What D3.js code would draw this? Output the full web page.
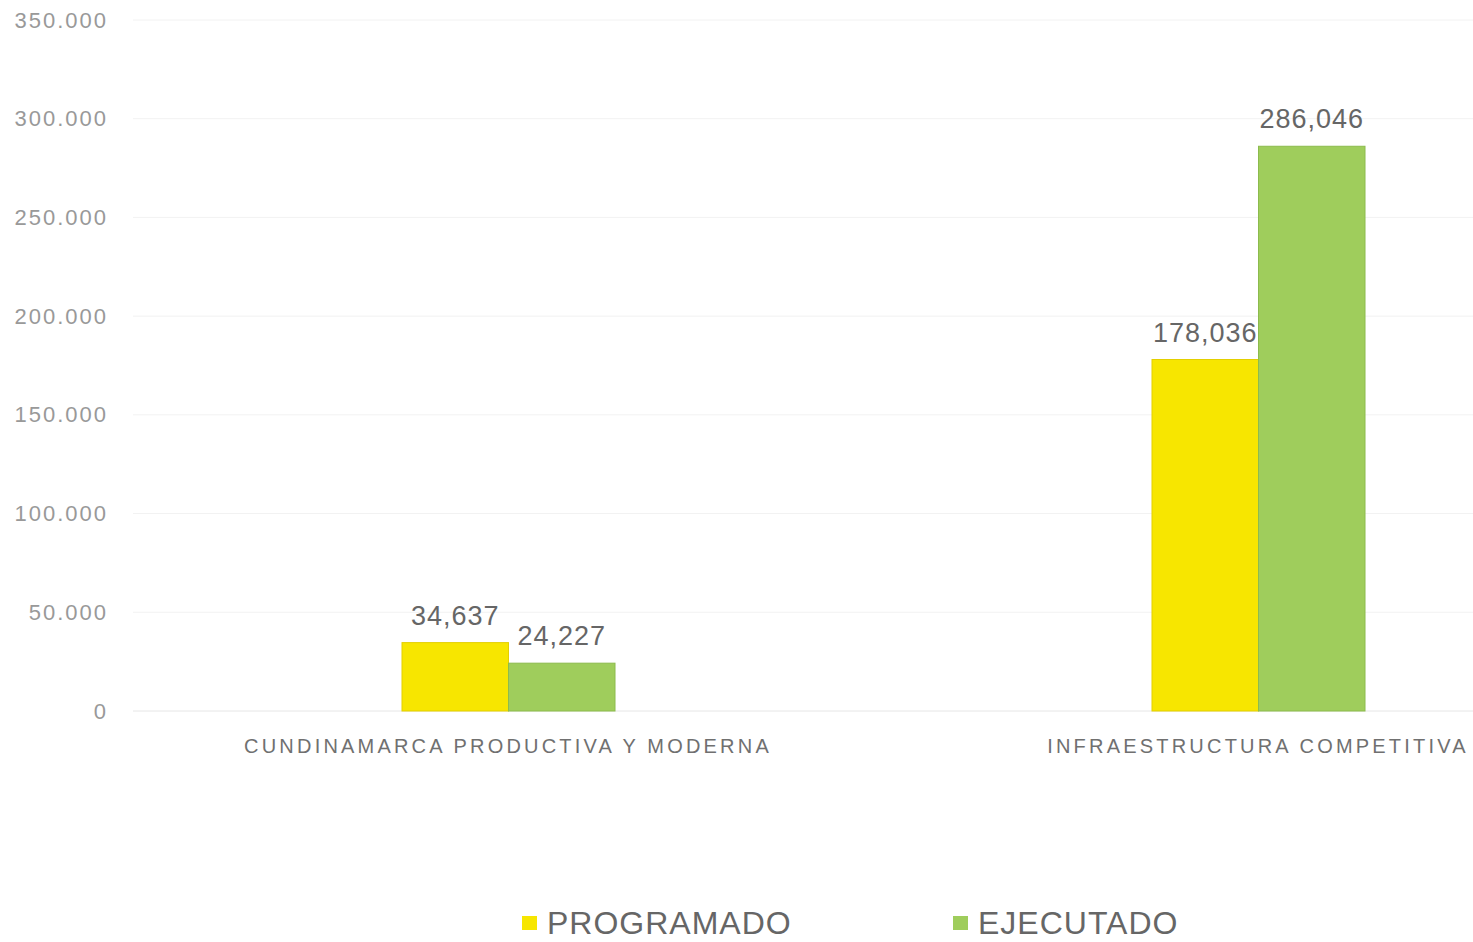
<!DOCTYPE html>
<html>
<head>
<meta charset="utf-8">
<script src="https://cdn.jsdelivr.net/npm/d3@7"></script>
<style>
  body { margin: 0; background: #fff; }
  text { font-family: "Liberation Sans", Arial, sans-serif; }
</style>
</head>
<body>
<div class="canvas"></div>
<script>
// data
const categories = ['CUNDINAMARCA PRODUCTIVA Y MODERNA', 'INFRAESTRUCTURA COMPETITIVA'];
const seriesNames = ['PROGRAMADO', 'EJECUTADO'];
const programado = [34637, 178036];
const ejecutado = [24227, 286046];
const yTicks = [0, 50000, 100000, 150000, 200000, 250000, 300000, 350000];

const colors = { PROGRAMADO: '#f7e600', EJECUTADO: '#9fcd5c' };
const edge = { PROGRAMADO: '#e3cf00', EJECUTADO: '#8cbb4d' };

const width = 1473, height = 942;
const margin = { top: 20, left: 133, bottom: 231 };
const graphHeight = height - margin.top - margin.bottom;

const svg = d3.select('.canvas')
    .append('svg')
    .attr('width', width)
    .attr('height', height);

const graph = svg.append('g')
    .attr('transform', `translate(${margin.left}, ${margin.top})`);

// scales
const x = d3.scaleBand().domain(categories).range([0, 1500]);
const xs = d3.scaleBand().domain(seriesNames).range([0, 213]);
const y = d3.scaleLinear().domain([0, 350000]).range([graphHeight, 0]);

// grid lines
graph.append('g')
    .selectAll('line')
    .data(yTicks)
    .enter().append('line')
    .attr('x1', 0).attr('x2', width)
    .attr('y1', d => y(d)).attr('y2', d => y(d))
    .attr('stroke', d => d === 0 ? '#e6e6e6' : '#f2f2f2')
    .attr('stroke-width', 1);

// y axis
const yAxis = d3.axisLeft(y)
    .tickValues(yTicks)
    .tickSize(0)
    .tickPadding(25)
    .tickFormat(d => d3.format(',')(d).replace(/,/g, '.'));

const yAxisGroup = graph.append('g').call(yAxis);
yAxisGroup.select('.domain').remove();
yAxisGroup.selectAll('text')
    .attr('fill', '#999')
    .style('font-size', '22px')
    .style('letter-spacing', '2px');

// x axis labels
const xAxis = d3.axisBottom(x).tickSize(0).tickPadding(28);
const xAxisGroup = graph.append('g')
    .attr('transform', `translate(0, ${graphHeight})`)
    .call(xAxis);
xAxisGroup.select('.domain').remove();
xAxisGroup.selectAll('text')
    .attr('fill', '#707070')
    .style('font-size', '20px')
    .style('letter-spacing', '3.2px');

// bars
const rows = categories.map((c, i) => ({
    cat: c,
    vals: [
        { name: 'PROGRAMADO', value: programado[i] },
        { name: 'EJECUTADO', value: ejecutado[i] }
    ]
}));

const groups = graph.selectAll('.cat')
    .data(rows)
    .enter().append('g')
    .attr('class', 'cat')
    .attr('transform', d => `translate(${x(d.cat) + x.bandwidth() / 2 - 106}, 0)`);

groups.selectAll('rect')
    .data(d => d.vals)
    .enter().append('rect')
    .attr('x', d => xs(d.name))
    .attr('width', xs.bandwidth())
    .attr('y', d => y(d.value))
    .attr('height', d => graphHeight - y(d.value))
    .attr('fill', d => colors[d.name])
    .attr('stroke', d => edge[d.name])
    .attr('stroke-width', 1);

groups.selectAll('.val')
    .data(d => d.vals)
    .enter().append('text')
    .attr('class', 'val')
    .attr('x', d => xs(d.name) + xs.bandwidth() / 2)
    .attr('y', d => y(d.value) - 18)
    .attr('text-anchor', 'middle')
    .attr('fill', '#666')
    .style('font-size', '27px')
    .style('letter-spacing', '1px')
    .text(d => d3.format(',')(d.value));

// legend
const legendX = [522, 953];
const legend = svg.selectAll('.legend')
    .data(seriesNames)
    .enter().append('g')
    .attr('class', 'legend')
    .attr('transform', (d, i) => `translate(${legendX[i]}, 923)`);

legend.append('rect')
    .attr('x', 0).attr('y', -7)
    .attr('width', 15).attr('height', 14)
    .attr('fill', d => colors[d]);

legend.append('text')
    .attr('x', 25)
    .attr('y', 11)
    .attr('fill', '#666')
    .style('font-size', '32px')
    .style('letter-spacing', '1px')
    .text(d => d);
</script>
</body>
</html>
